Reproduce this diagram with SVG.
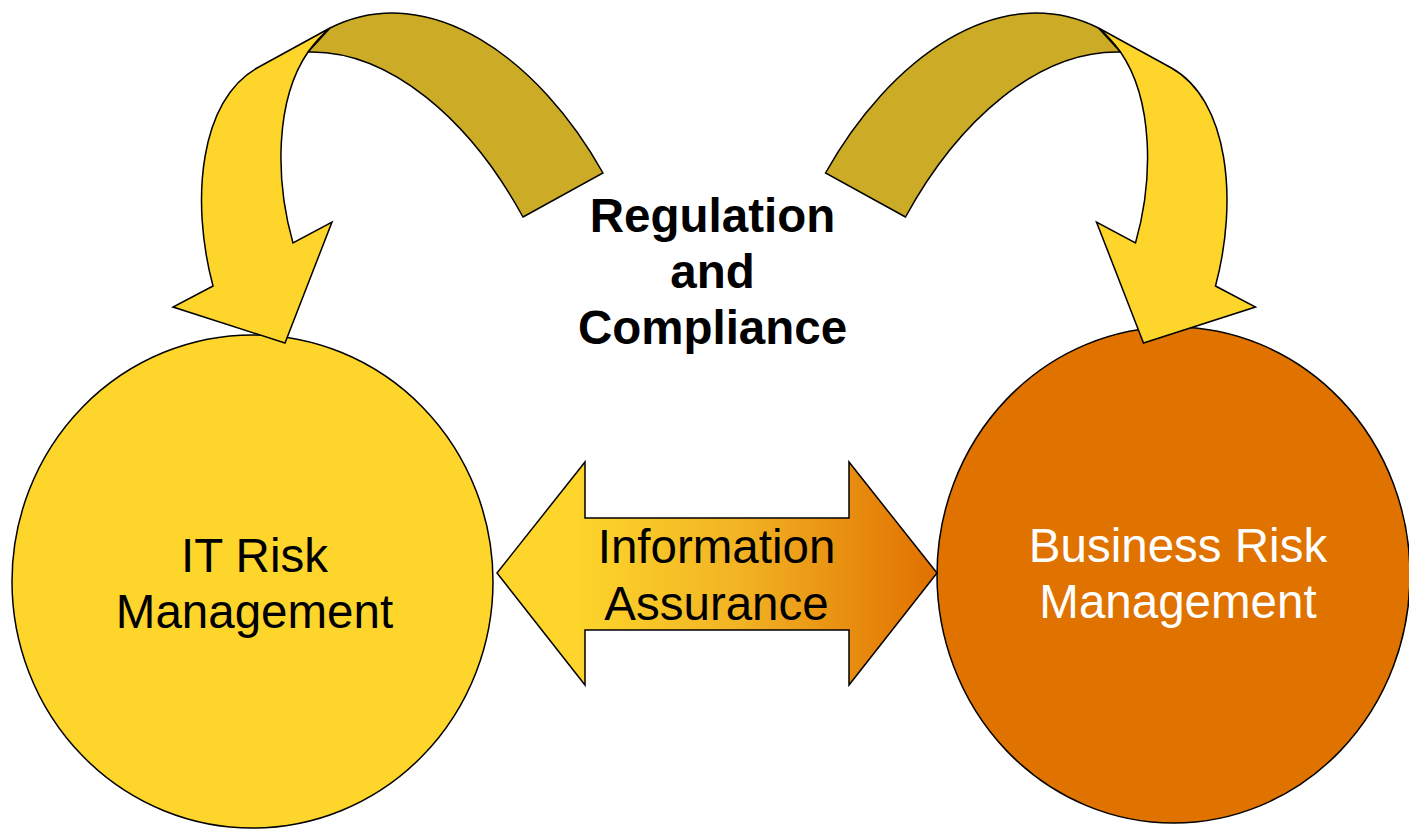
<svg xmlns="http://www.w3.org/2000/svg" width="1409" height="829" viewBox="0 0 1409 829">
  <style>
    .edge { stroke: #000; stroke-width: 1.5; stroke-linejoin: miter; }
    .band { fill: #CCAC26; }
    .bend { fill: #FDD52B; }
    .label { font-family: "Liberation Sans", Arial, sans-serif; font-size: 47.5px; text-anchor: middle; }
    .bold { font-weight: bold; font-size: 47.5px; fill: #000; }
  </style>
  <defs>
    <linearGradient id="assuranceFill" gradientUnits="userSpaceOnUse" x1="497" y1="0" x2="937" y2="0">
      <stop offset="0.18" stop-color="#FDD52B"/>
      <stop offset="0.55" stop-color="#F2B324"/>
      <stop offset="1" stop-color="#E07000"/>
    </linearGradient>
    <!-- curved arrow: dark band plus yellow downward arrowhead -->
    <g id="curvedArrow">
      <path class="band edge" d="M523,217 L603,173 C540,60 430,-22 330,28 L308,52 C390,50 470,120 523,217 Z"/>
      <path class="bend edge" d="M330,28 L257,68 C200,100 190,200 213,286 L173,307 L285,343 L332,222 L293,243 C275,180 275,100 308,52 Q318,38 330,28 Z"/>
    </g>
  </defs>

  <g id="it-risk">
    <ellipse class="edge" cx="252.5" cy="581.5" rx="240.5" ry="246.5" fill="#FDD52B"/>
    <text class="label" fill="#000"><tspan x="254.5" y="572">IT Risk</tspan><tspan x="254.5" y="628">Management</tspan></text>
  </g>

  <g id="business-risk">
    <ellipse class="edge" cx="1173.5" cy="575" rx="236.5" ry="248" fill="#E07200"/>
    <text class="label" fill="#FFF"><tspan x="1178" y="562">Business Risk</tspan><tspan x="1178" y="618">Management</tspan></text>
  </g>

  <g id="connectors">
    <use href="#curvedArrow"/>
    <use href="#curvedArrow" transform="translate(1428.5,0) scale(-1,1)"/>
    <g id="information-assurance">
      <path class="edge" fill="url(#assuranceFill)" d="M497,573 L585,462 L585,518 L849,518 L849,462 L937,573 L849,685 L849,630 L585,630 L585,685 Z"/>
      <text class="label" fill="#000"><tspan x="716.5" y="563">Information</tspan><tspan x="716.5" y="620">Assurance</tspan></text>
    </g>
  </g>

  <g id="regulation-compliance">
    <text class="label bold"><tspan x="712.5" y="232">Regulation</tspan><tspan x="712.5" y="288">and</tspan><tspan x="712.5" y="344">Compliance</tspan></text>
  </g>
</svg>
